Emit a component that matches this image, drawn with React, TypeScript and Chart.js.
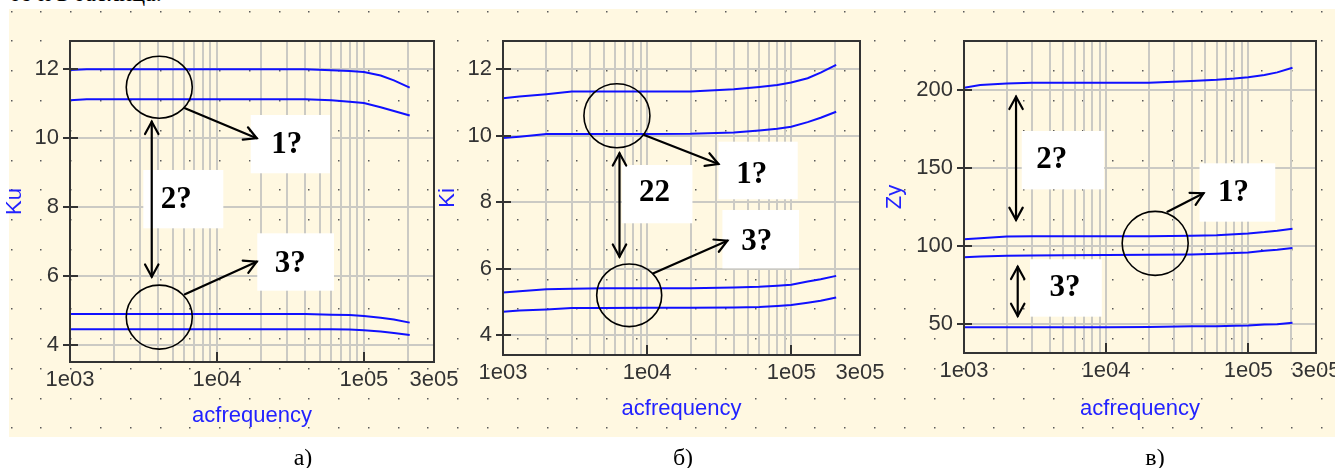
import React, { useEffect, useRef } from "react";
import { Chart, registerables } from "chart.js";

Chart.register(...registerables);

// ---------- data ----------
const freq = [1000, 1300, 2000, 3000, 5000, 10000, 20000, 40000, 60000, 80000, 100000, 130000, 160000, 205000];

// panel а) Ku
const ku1 = [11.98, 12.0, 12.0, 12.0, 12.0, 12.0, 12.0, 12.0, 11.97, 11.95, 11.92, 11.82, 11.68, 11.47];
const ku2 = [11.1, 11.13, 11.13, 11.13, 11.13, 11.13, 11.13, 11.13, 11.1, 11.06, 11.02, 10.9, 10.79, 10.66];
const ku3 = [4.9, 4.9, 4.9, 4.9, 4.9, 4.9, 4.9, 4.9, 4.88, 4.87, 4.84, 4.79, 4.74, 4.65];
const ku4 = [4.46, 4.46, 4.46, 4.46, 4.46, 4.46, 4.46, 4.46, 4.46, 4.45, 4.43, 4.39, 4.35, 4.29];

// panel б) Ki
const ki1 = [11.13, 11.18, 11.25, 11.33, 11.33, 11.33, 11.33, 11.4, 11.47, 11.53, 11.6, 11.73, 11.9, 12.13];
const ki2 = [9.93, 9.97, 10.05, 10.05, 10.05, 10.05, 10.06, 10.1, 10.16, 10.21, 10.27, 10.41, 10.54, 10.72];
const ki3 = [5.28, 5.32, 5.38, 5.39, 5.41, 5.41, 5.41, 5.43, 5.45, 5.48, 5.51, 5.61, 5.68, 5.78];
const ki4 = [4.7, 4.74, 4.77, 4.81, 4.81, 4.82, 4.82, 4.83, 4.84, 4.87, 4.9, 4.97, 5.03, 5.13];

// panel в) Zy
const zy1 = [201.5, 203.2, 204.2, 204.7, 204.7, 204.7, 204.7, 205.8, 206.5, 207.3, 208.2, 209.6, 211.3, 214.3];
const zy2 = [104.3, 105.0, 106.0, 106.2, 106.2, 106.2, 106.2, 106.5, 106.9, 107.5, 108.0, 108.9, 109.8, 111.1];
const zy3 = [92.8, 93.3, 93.8, 93.9, 94.0, 94.2, 94.4, 94.6, 95.0, 95.5, 95.8, 96.9, 97.6, 98.7];
const zy4 = [47.9, 47.9, 47.9, 47.9, 47.9, 47.9, 48.0, 48.5, 48.6, 48.8, 49.0, 49.6, 49.9, 50.8];

// ticks
const xGridValues = [
  1000, 2000, 3000, 4000, 5000, 6000, 7000, 8000, 9000,
  10000, 20000, 30000, 40000, 50000, 60000, 70000, 80000, 90000,
  100000, 200000, 300000,
];
const xLabelValues = [1000, 10000, 100000, 300000];
const xLabelTexts = ["1e03", "1e04", "1e05", "3e05"];
const kuTicks = [4, 6, 8, 10, 12];
const kiTicks = [4, 6, 8, 10, 12];
const zyTicks = [50, 100, 150, 200];

// ---------- annotations (in data coordinates) ----------
const annA = [
  { kind: "box", x: [16970, 58800], y: [10.674, 8.983], text: "1?", t: [29830, 9.804] },
  { kind: "box", x: [3154, 11050], y: [9.079, 7.387], text: "2?", t: [5290, 8.208] },
  { kind: "box", x: [18810, 62580], y: [7.242, 5.577], text: "3?", t: [31570, 6.352] },
  { kind: "circle", c: [4050, 11.48], rx: 33, ry: 31 },
  { kind: "circle", c: [4050, 4.81], rx: 33, ry: 32 },
  { kind: "arrow", from: [6060, 10.87], to: [18640, 10.0] },
  { kind: "darrow", from: [3600, 10.48], to: [3600, 5.98] },
  { kind: "arrow", from: [6060, 5.47], to: [18640, 6.42] },
];
const annB = [
  { kind: "box", x: [31240, 110900], y: [9.82, 8.086], text: "1?", t: [53240, 8.817] },
  { kind: "box", x: [6683, 20630], y: [9.118, 7.363], text: "22", t: [11250, 8.266] },
  { kind: "box", x: [33300, 113300], y: [7.763, 6.008], text: "3?", t: [57680, 6.809] },
  { kind: "circle", c: [6172, 10.603], rx: 33, ry: 32 },
  { kind: "circle", c: [7510, 5.195], rx: 32.5, ry: 31.3 },
  { kind: "arrow", from: [9541, 10.022], to: [31240, 9.148] },
  { kind: "darrow", from: [6432, 9.471], to: [6432, 6.357] },
  { kind: "arrow", from: [11070, 5.857], to: [36060, 6.839] },
];
const annC = [
  { kind: "box", x: [45430, 155000], y: [153.0, 115.6], text: "1?", t: [78860, 133.8] },
  { kind: "box", x: [2550, 9683], y: [173.7, 136.3], text: "2?", t: [4147, 155.1] },
  { kind: "box", x: [2916, 9328], y: [91.5, 54.7], text: "3?", t: [5145, 72.9] },
  { kind: "circle", c: [22150, 101.7], rx: 33, ry: 32 },
  { kind: "arrow", from: [27040, 122.0], to: [48490, 133.8] },
  { kind: "darrow", from: [2324, 195.7], to: [2324, 116.7] },
  { kind: "darrow", from: [2388, 86.7], to: [2388, 55.1] },
];

// ---------- panel layout ----------
const CANVAS_H = 440;
const panels = [
  { key: "a", left: 2, w: 462, title: "Ku", yMin: 3.508, yMax: 12.821, yTicks: kuTicks, yWidth: 68, xHeight: 78, titlePad: 10.8, series: [ku1, ku2, ku3, ku4], ann: annA },
  { key: "b", left: 435, w: 455, title: "Ki", yMin: 3.397, yMax: 12.852, yTicks: kiTicks, yWidth: 68, xHeight: 85, titlePad: 18, series: [ki1, ki2, ki3, ki4], ann: annB },
  { key: "c", left: 882, w: 464, title: "Zy", yMin: 31.4, yMax: 231.4, yTicks: zyTicks, yWidth: 82, xHeight: 87, titlePad: 18, series: [zy1, zy2, zy3, zy4], ann: annC },
];

const AXIS_FONT = "'Liberation Sans', Arial, sans-serif";
const SERIF = "'Liberation Serif', 'Times New Roman', serif";

function drawArrowHead(ctx: CanvasRenderingContext2D, x0: number, y0: number, x1: number, y1: number) {
  const ang = Math.atan2(y1 - y0, x1 - x0);
  const len = 14;
  const spread = 0.5;
  ctx.beginPath();
  ctx.moveTo(x1 - len * Math.cos(ang - spread), y1 - len * Math.sin(ang - spread));
  ctx.lineTo(x1, y1);
  ctx.lineTo(x1 - len * Math.cos(ang + spread), y1 - len * Math.sin(ang + spread));
  ctx.stroke();
}

const decorPlugin = {
  id: "decor",
  afterDraw(chart: any) {
    const ctx: CanvasRenderingContext2D = chart.ctx;
    const a = chart.chartArea;
    const sx = chart.scales.x;
    const sy = chart.scales.y;
    const opts = chart.options.plugins.decor || {};
    const ann = opts.ann || [];
    const X = (v: number) => sx.getPixelForValue(v);
    const Y = (v: number) => sy.getPixelForValue(v);
    ctx.save();

    // frame
    ctx.strokeStyle = "#333333";
    ctx.lineWidth = 2;
    ctx.strokeRect(a.left, a.top, a.right - a.left, a.bottom - a.top);

    // y tick marks across the axis
    ctx.lineWidth = 2;
    for (const t of sy.ticks) {
      const y = Math.round(Y(t.value));
      ctx.beginPath();
      ctx.moveTo(a.left - 7, y);
      ctx.lineTo(a.left + 8, y);
      ctx.stroke();
    }
    // x major tick marks
    for (const v of xLabelValues) {
      if (v <= sx.min || v >= sx.max) continue;
      const x = Math.round(X(v));
      ctx.beginPath();
      ctx.moveTo(x, a.bottom);
      ctx.lineTo(x, a.bottom - 10);
      ctx.stroke();
    }

    // boxes
    for (const it of ann) {
      if (it.kind !== "box") continue;
      const x0 = X(it.x[0]), x1 = X(it.x[1]);
      const y0 = Y(it.y[0]), y1 = Y(it.y[1]);
      ctx.fillStyle = "#ffffff";
      ctx.fillRect(x0, y0, x1 - x0, y1 - y0);
      ctx.fillStyle = "#000000";
      ctx.font = `bold 31px ${SERIF}`;
      ctx.textAlign = "center";
      ctx.textBaseline = "middle";
      ctx.fillText(it.text, X(it.t[0]), Y(it.t[1]));
    }
    // circles
    ctx.strokeStyle = "#000000";
    ctx.lineWidth = 1.6;
    for (const it of ann) {
      if (it.kind !== "circle") continue;
      ctx.beginPath();
      ctx.ellipse(X(it.c[0]), Y(it.c[1]), it.rx, it.ry, 0, 0, Math.PI * 2);
      ctx.stroke();
    }
    // arrows
    ctx.lineWidth = 2.2;
    ctx.lineCap = "round";
    for (const it of ann) {
      if (it.kind !== "arrow" && it.kind !== "darrow") continue;
      const x0 = X(it.from[0]), y0 = Y(it.from[1]);
      const x1 = X(it.to[0]), y1 = Y(it.to[1]);
      ctx.beginPath();
      ctx.moveTo(x0, y0);
      ctx.lineTo(x1, y1);
      ctx.stroke();
      drawArrowHead(ctx, x0, y0, x1, y1);
      if (it.kind === "darrow") drawArrowHead(ctx, x1, y1, x0, y0);
    }
    ctx.restore();
  },
};

function Panel({ p }: { p: any }) {
  const ref = useRef<HTMLCanvasElement>(null);
  useEffect(() => {
    if (!ref.current) return;
    const datasets = p.series.map((s: number[]) => ({
      data: freq.map((f, i) => ({ x: f, y: s[i] })),
      borderColor: "#1010ff",
      borderWidth: 2,
      pointRadius: 0,
      tension: 0,
      fill: false,
    }));
    const gridCfg = { color: "#cbcac4", lineWidth: 2, drawTicks: false };
    const chart = new Chart(ref.current, {
      type: "line",
      data: { datasets },
      plugins: [decorPlugin],
      options: {
        animation: false,
        responsive: false,
        events: [],
        layout: { padding: { left: 0, right: 30, top: 41, bottom: 0 } },
        plugins: {
          legend: { display: false },
          tooltip: { enabled: false },
          decor: { ann: p.ann },
        } as any,
        scales: {
          x: {
            type: "logarithmic",
            min: 1000,
            max: 300000,
            grid: gridCfg,
            border: { display: false },
            afterBuildTicks: (s: any) => {
              s.ticks = xGridValues.map((v) => ({ value: v }));
            },
            afterFit: (s: any) => {
              s.height = p.xHeight;
            },
            ticks: {
              autoSkip: false,
              maxRotation: 0,
              minRotation: 0,
              padding: 5,
              color: "#333333",
              font: { family: AXIS_FONT, size: 22 },
              callback: (v: any) => {
                const i = xLabelValues.indexOf(Number(v));
                return i >= 0 ? xLabelTexts[i] : "";
              },
            },
            title: {
              display: true,
              text: "acfrequency",
              color: "#2222ff",
              font: { family: AXIS_FONT, size: 22, lineHeight: 1.2 },
              padding: { top: 0, bottom: p.titlePad },
            },
          },
          y: {
            type: "linear",
            min: p.yMin,
            max: p.yMax,
            grid: gridCfg,
            border: { display: false },
            afterBuildTicks: (s: any) => {
              s.ticks = p.yTicks.map((v: number) => ({ value: v }));
            },
            afterFit: (s: any) => {
              s.width = p.yWidth;
            },
            ticks: {
              padding: 11,
              color: "#333333",
              font: { family: AXIS_FONT, size: 22 },
              callback: (v: any) => String(v),
            },
            title: {
              display: true,
              text: p.title,
              color: "#2222ff",
              font: { family: AXIS_FONT, size: 22, lineHeight: 1.2 },
              padding: { top: 0, bottom: 0 },
            },
          },
        },
      } as any,
    });
    return () => chart.destroy();
  }, []);
  return (
    <canvas
      ref={ref}
      width={p.w}
      height={CANVAS_H}
      style={{ position: "absolute", left: p.left, top: 0, width: p.w, height: CANVAS_H }}
    />
  );
}

function DotGrid() {
  const ref = useRef<HTMLCanvasElement>(null);
  useEffect(() => {
    const c = ref.current;
    if (!c) return;
    const ctx = c.getContext("2d")!;
    ctx.clearRect(0, 0, c.width, c.height);
    ctx.fillStyle = "#5a5a5a";
    const step = 29.77;
    for (let y = 11.7; y < 437; y += step) {
      for (let x = 11.7; x < 1335; x += step) {
        ctx.fillRect(Math.round(x) - 1, Math.round(y) - 1, 1.5, 1.5);
      }
    }
  }, []);
  return (
    <canvas ref={ref} width={1335} height={468} style={{ position: "absolute", left: 0, top: 0, width: 1335, height: 468 }} />
  );
}

const captions = [
  { text: "а)", x: 303 },
  { text: "б)", x: 683 },
  { text: "в)", x: 1155 },
];

export default function App() {
  return (
    <div
      style={{
        position: "absolute",
        left: 0,
        top: 0,
        width: 1335,
        height: 468,
        overflow: "hidden",
        background: "#ffffff",
      }}
    >
      <div
        style={{
          position: "absolute",
          left: 0,
          top: -19,
          fontFamily: SERIF,
          fontSize: 24,
          lineHeight: "24px",
          color: "#000",
          whiteSpace: "nowrap",
          paddingLeft: 10,
        }}
      >
        то и в таблица.
      </div>
      <div
        style={{
          position: "absolute",
          left: 9,
          top: 9,
          width: 1326,
          height: 428,
          background: "#fff8e1",
        }}
      />
      <DotGrid />
      {panels.map((p) => (
        <Panel key={p.key} p={p} />
      ))}
      {captions.map((c) => (
        <div
          key={c.text}
          style={{
            position: "absolute",
            left: c.x - 40,
            width: 80,
            top: 445,
            textAlign: "center",
            fontFamily: SERIF,
            fontSize: 24,
            lineHeight: "24px",
            color: "#000",
          }}
        >
          {c.text}
        </div>
      ))}
    </div>
  );
}
